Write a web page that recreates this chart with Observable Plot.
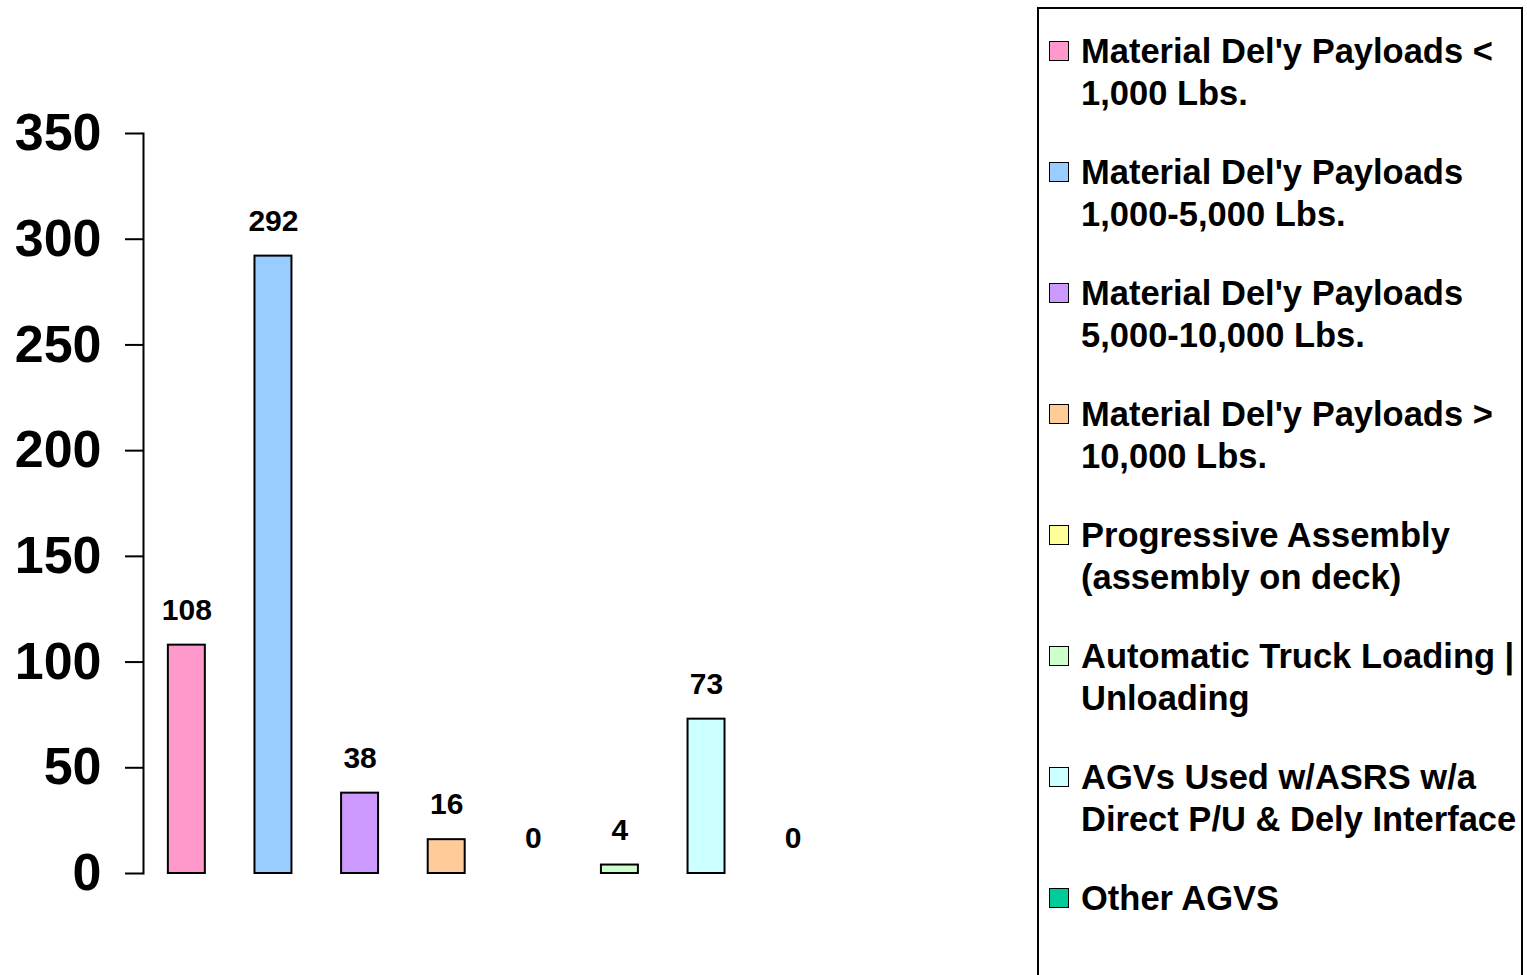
<!DOCTYPE html>
<html>
<head>
<meta charset="utf-8">
<script src="https://cdn.jsdelivr.net/npm/d3@7"></script>
<script src="https://cdn.jsdelivr.net/npm/@observablehq/plot@0.6"></script>
<style>
  html, body { margin: 0; padding: 0; background: #fff; overflow: hidden; }
  body { width: 1527px; height: 975px; position: relative; font-family: "Liberation Sans", Arial, sans-serif; font-weight: bold; }
  #chart { position: absolute; left: 0; top: 0; }
  #legend { position: absolute; left: 1037px; top: 7px; width: 486px; height: 1000px; box-sizing: border-box;
            border: 2px solid #000; padding-top: 22px; }
  .item { position: relative; margin-bottom: 38px; padding-left: 42px; font-size: 34.5px; line-height: 41.5px;
          white-space: pre-line; color: #000; }
  .sw { position: absolute; left: 10px; top: 10px; width: 18px; height: 18px; border: 1.5px solid #000; }
</style>
</head>
<body>
<div id="chart"></div>
<div id="legend"></div>
<script>
const categories = [
  "Material Del'y Payloads <\n1,000 Lbs.",
  "Material Del'y Payloads\n1,000-5,000 Lbs.",
  "Material Del'y Payloads\n5,000-10,000 Lbs.",
  "Material Del'y Payloads >\n10,000 Lbs.",
  "Progressive Assembly\n(assembly on deck)",
  "Automatic Truck Loading |\nUnloading",
  "AGVs Used w/ASRS w/a\nDirect P/U & Dely Interface",
  "Other AGVS"
];
const values = [108, 292, 38, 16, 0, 4, 73, 0];
const colors = ["#FF99CC", "#99CCFF", "#CC99FF", "#FFCC99", "#FFFF99", "#CCFFCC", "#CCFFFF", "#00CC99"];
const yTicks = [0, 50, 100, 150, 200, 250, 300, 350];

const data = categories.map((c, i) => ({category: c, value: values[i]}));

const plot = Plot.plot({
  width: 1527,
  height: 975,
  marginLeft: 143,
  marginRight: 691,
  marginTop: 133,
  marginBottom: 102,
  style: {fontFamily: "'Liberation Sans', Arial, sans-serif", fontWeight: "bold", background: "transparent", overflow: "visible"},
  x: {domain: categories, paddingInner: 0.573, paddingOuter: 0.287, round: false, axis: null},
  y: {domain: [0, 350], ticks: yTicks},
  color: {domain: categories, range: colors},
  marks: [
    Plot.frame({anchor: "left", stroke: "#000", strokeWidth: 2}),
    Plot.axisY({ticks: yTicks, tickSize: 18, tickPadding: 24, fontSize: 52, fontWeight: "bold", label: null, stroke: "#000", strokeWidth: 2, strokeOpacity: 1, color: "#000"}),
    Plot.barY(data, {x: "category", y: "value", fill: "category", stroke: "#000", strokeWidth: 2, filter: d => d.value > 0}),
    Plot.text(data, {x: "category", y: "value", text: d => String(d.value), dy: -35, fontSize: 30, fontWeight: "bold", fill: "#000"})
  ]
});
document.getElementById("chart").appendChild(plot);

const legend = document.getElementById("legend");
categories.forEach((c, i) => {
  const it = document.createElement("div");
  it.className = "item";
  const sw = document.createElement("span");
  sw.className = "sw";
  sw.style.background = colors[i];
  it.appendChild(sw);
  it.appendChild(document.createTextNode(c));
  legend.appendChild(it);
});
</script>
</body>
</html>
